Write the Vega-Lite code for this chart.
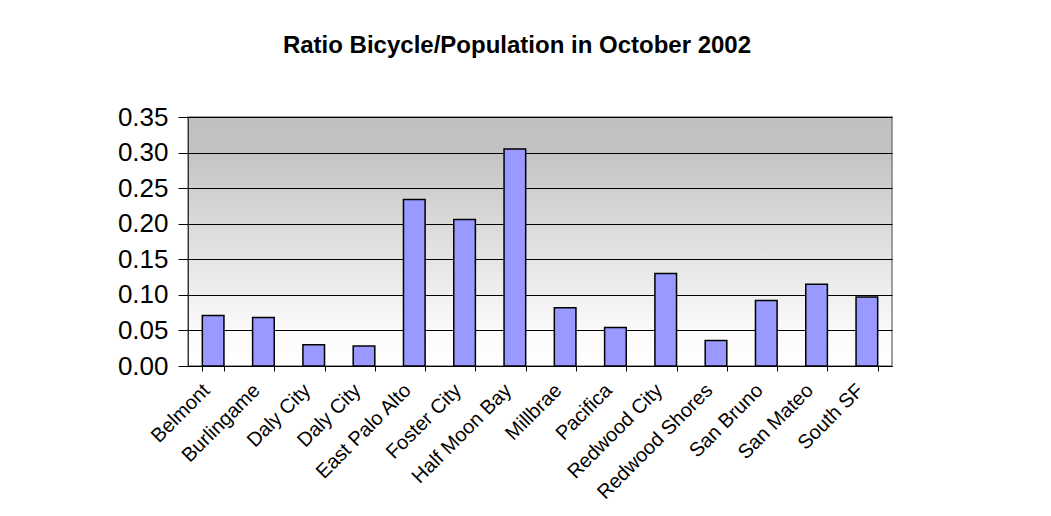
{
  "$schema": "https://vega.github.io/schema/vega-lite/v6.json",
  "width": 704,
  "height": 249,
  "autosize": "none",
  "padding": {"left": 188, "top": 117, "right": 159, "bottom": 150},
  "background": "white",
  "title": {
    "text": "Ratio Bicycle/Population in October 2002",
    "font": "Liberation Sans",
    "fontSize": 24,
    "fontWeight": "bold",
    "color": "black",
    "anchor": "middle",
    "offset": 46,
    "dx": -23
  },
  "config": {
    "view": {
      "stroke": "#808080",
      "strokeWidth": 1.5,
      "fill": {
        "gradient": "linear",
        "x1": 0, "y1": 0, "x2": 0, "y2": 1,
        "stops": [
          {"offset": 0, "color": "#c0c0c0"},
          {"offset": 0.12, "color": "#c2c2c2"},
          {"offset": 0.85, "color": "#fafafa"},
          {"offset": 1, "color": "#ffffff"}
        ]
      }
    },
    "axis": {"labelFont": "Liberation Sans", "labelColor": "black"}
  },
  "data": {
    "values": [
      {"key": "01|Belmont", "ratio": 0.071},
      {"key": "02|Burlingame", "ratio": 0.068},
      {"key": "03|Daly City", "ratio": 0.030},
      {"key": "04|Daly City", "ratio": 0.028},
      {"key": "05|East Palo Alto", "ratio": 0.234},
      {"key": "06|Foster City", "ratio": 0.206},
      {"key": "07|Half Moon Bay", "ratio": 0.305},
      {"key": "08|Millbrae", "ratio": 0.082},
      {"key": "09|Pacifica", "ratio": 0.054},
      {"key": "10|Redwood City", "ratio": 0.130},
      {"key": "11|Redwood Shores", "ratio": 0.036},
      {"key": "12|San Bruno", "ratio": 0.092},
      {"key": "13|San Mateo", "ratio": 0.115},
      {"key": "14|South SF", "ratio": 0.097}
    ]
  },
  "mark": {"type": "bar", "color": "#9999ff", "stroke": "black", "strokeWidth": 1.5},
  "encoding": {
    "x": {
      "field": "key",
      "type": "nominal",
      "sort": null,
      "scale": {"paddingInner": 0.57, "paddingOuter": 0.285},
      "axis": {
        "title": null,
        "labelExpr": "split(datum.value, '|')[1]",
        "labelAngle": -45,
        "labelAlign": "right",
        "labelBaseline": "middle",
        "labelFontSize": 20,
        "labelPadding": 16,
        "labelOffset": -7,
        "tickBand": "extent",
        "tickSize": 5,
        "tickColor": "black",
        "domainColor": "black",
        "domainWidth": 1,
        "grid": false
      }
    },
    "y": {
      "field": "ratio",
      "type": "quantitative",
      "scale": {"domain": [0, 0.35], "nice": false},
      "axis": {
        "title": null,
        "values": [0, 0.05, 0.1, 0.15, 0.2, 0.25, 0.3, 0.35],
        "format": ".2f",
        "labelFontSize": 26,
        "labelPadding": 10,
        "tickSize": 10,
        "tickColor": "black",
        "domainColor": "#333333",
        "grid": true,
        "gridColor": "black",
        "gridWidth": 1,
        "gridOpacity": 1
      }
    }
  }
}
